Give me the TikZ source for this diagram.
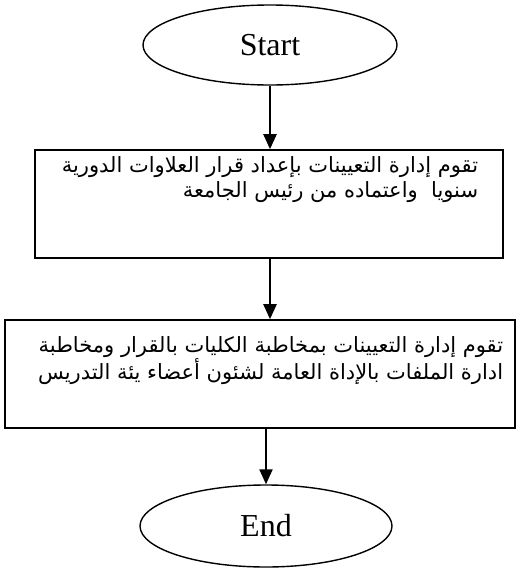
\documentclass[tikz,border=0pt]{standalone}
\usepackage{fontspec}
\setmainfont{Liberation Serif}
\newfontfamily\arabicfont[Script=Arabic]{DejaVu Sans}
\TeXXeTstate=1
\usetikzlibrary{shapes.geometric}
\usetikzlibrary{arrows.meta}

\begin{document}
\begin{tikzpicture}[x=1pt, y=-1pt, line width=1.4pt,
    terminal/.style={draw, ellipse, minimum width=254pt, minimum height=80pt, inner sep=0pt, font=\fontsize{32}{36}\selectfont},
    stepbox/.style={draw, rectangle, inner sep=0pt, line width=1.6pt},
    arabic/.style={anchor=north east, align=right, inner sep=0pt, font=\arabicfont\fontsize{21}{25}\selectfont},
    flow/.style={-{Triangle[length=15pt, width=13pt]}, line width=2.2pt}]
    \useasboundingbox (0,0) rectangle (520,568);
    % terminals
    \node[terminal] (start) at (270,45) {Start};
    \node[terminal, minimum width=252pt, minimum height=82pt] (end) at (266,526) {End};
    % process boxes
    \node[stepbox, minimum width=468pt, minimum height=108pt] (box1) at (269,204) {};
    \node[stepbox, minimum width=510pt, minimum height=108pt] (box2) at (260,374) {};
    \node[arabic] (t1) at ([xshift=-25pt, yshift=-7pt]box1.north east)
      {\beginR تقوم إدارة التعيينات بإعداد قرار العلاوات الدورية\endR\\
       \beginR سنويا\ \ واعتماده من رئيس الجامعة\endR};
    \node[arabic] (t2) at ([xshift=-12pt, yshift=-17pt]box2.north east)
      {\beginR تقوم إدارة التعيينات بمخاطبة الكليات بالقرار ومخاطبة\endR\\
       \beginR ادارة الملفات بالإداة العامة لشئون أعضاء يئة التدريس\endR};
    % connectors
    \draw[flow] (start.south) -- (start.south |- box1.north);
    \draw[flow] (box1.south -| start.south) -- (start.south |- box2.north);
    \draw[flow] (box2.south -| end.north) -- (end.north);
\end{tikzpicture}
\end{document}
